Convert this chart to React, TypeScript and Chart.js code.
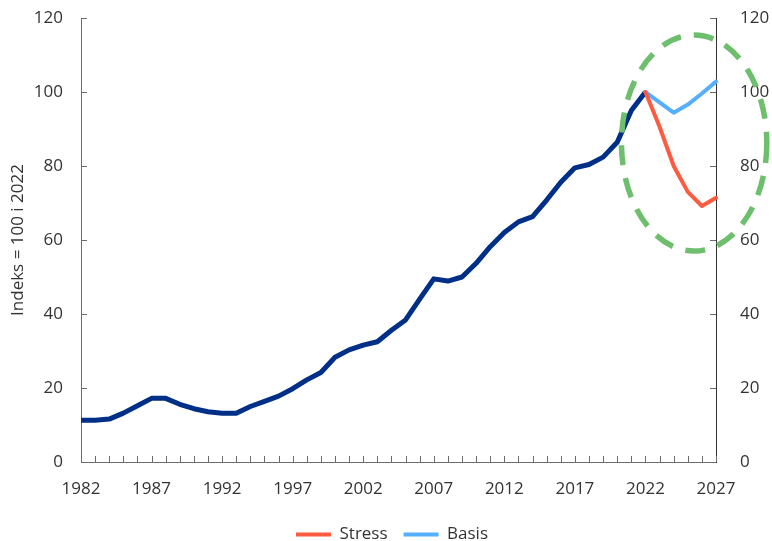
import React, { useEffect, useRef } from "react";
import { Chart, registerables } from "chart.js";

Chart.register(...registerables);

const years = [
  "1982", "1983", "1984", "1985", "1986", "1987", "1988", "1989", "1990", "1991",
  "1992", "1993", "1994", "1995", "1996", "1997", "1998", "1999", "2000", "2001",
  "2002", "2003", "2004", "2005", "2006", "2007", "2008", "2009", "2010", "2011",
  "2012", "2013", "2014", "2015", "2016", "2017", "2018", "2019", "2020", "2021",
  "2022", "2023", "2024", "2025", "2026", "2027",
];

const historyValues = [
  11.3, 11.3, 11.6, 13.2, 15.2, 17.2, 17.2, 15.6, 14.4, 13.6,
  13.2, 13.2, 15.0, 16.4, 17.8, 19.8, 22.2, 24.2, 28.3, 30.3,
  31.6, 32.5, 35.6, 38.4, 44.0, 49.5, 48.9, 50.0, 53.7, 58.2,
  62.0, 64.9, 66.3, 70.8, 75.6, 79.5, 80.4, 82.4, 86.4, 95.0,
  100, null, null, null, null, null,
];

const stressValues = [
  null, null, null, null, null, null, null, null, null, null,
  null, null, null, null, null, null, null, null, null, null,
  null, null, null, null, null, null, null, null, null, null,
  null, null, null, null, null, null, null, null, null, null,
  100, 90.6, 80.0, 73.0, 69.2, 71.4,
];

const basisValues = [
  null, null, null, null, null, null, null, null, null, null,
  null, null, null, null, null, null, null, null, null, null,
  null, null, null, null, null, null, null, null, null, null,
  null, null, null, null, null, null, null, null, null, null,
  100, 97.2, 94.4, 96.6, 99.6, 102.8,
];

const yTicks = [0, 20, 40, 60, 80, 100, 120];
const xLabelEvery = 5;

// highlight ellipse (data units)
const ellipseCenterYear = 2025.45;
const ellipseCenterValue = 86.2;
const ellipseHalfYears = 5.15;
const ellipseHalfValue = 29.2;

const FONT = "'Open Sans', 'Noto Sans', sans-serif";
const FS = 17;
const TEXT = "#333333";
const AXIS = "#6b6b6b";

const tickMarksPlugin = {
  id: "innerTicks",
  afterDraw(chart: any) {
    const { ctx, chartArea } = chart;
    const xs = chart.scales.x;
    const y = chart.scales.y;
    ctx.save();
    ctx.strokeStyle = AXIS;
    ctx.lineWidth = 1;
    ctx.beginPath();
    for (let i = 0; i < years.length; i++) {
      const px = Math.round(xs.getPixelForValue(i)) + 0.5;
      ctx.moveTo(px, chartArea.bottom);
      ctx.lineTo(px, chartArea.bottom - 6);
    }
    for (const v of yTicks) {
      const py = Math.round(y.getPixelForValue(v)) + 0.5;
      ctx.moveTo(chartArea.left, py);
      ctx.lineTo(chartArea.left + 6, py);
      ctx.moveTo(chartArea.right, py);
      ctx.lineTo(chartArea.right - 6, py);
    }
    ctx.stroke();
    ctx.restore();
  },
};

const ellipsePlugin = {
  id: "highlightEllipse",
  afterDatasetsDraw(chart: any) {
    const { ctx } = chart;
    const xs = chart.scales.x;
    const y = chart.scales.y;
    const cIdx = ellipseCenterYear - 1982;
    const cx = xs.getPixelForValue(cIdx);
    const cy = y.getPixelForValue(ellipseCenterValue);
    const rx = Math.abs(xs.getPixelForValue(cIdx + ellipseHalfYears) - cx);
    const ry = Math.abs(y.getPixelForValue(ellipseCenterValue + ellipseHalfValue) - cy);
    ctx.save();
    ctx.strokeStyle = "#6dbf6d";
    ctx.lineWidth = 5.5;
    ctx.setLineDash([20, 13]);
    ctx.beginPath();
    ctx.ellipse(cx, cy, rx, ry, 0, 0, Math.PI * 2);
    ctx.stroke();
    ctx.restore();
  },
};

const legendShiftPlugin = {
  id: "legendShift",
  afterLayout(chart: any) {
    const lg = chart.legend;
    if (lg) {
      lg.left += 6;
      lg.right += 6;
    }
  },
};

export default function App() {
  const ref = useRef<HTMLCanvasElement | null>(null);

  useEffect(() => {
    if (!ref.current) return;
    const chart = new Chart(ref.current, {
      type: "line",
      data: {
        labels: years,
        datasets: [
          {
            label: "Stress",
            data: stressValues,
            borderColor: "#ff5b40",
            backgroundColor: "#ff5b40",
            borderWidth: 4,
            borderCapStyle: "round",
            borderJoinStyle: "round",
            pointRadius: 0,
          },
          {
            label: "Basis",
            data: basisValues,
            borderColor: "#55aefe",
            backgroundColor: "#55aefe",
            borderWidth: 4,
            borderCapStyle: "round",
            borderJoinStyle: "round",
            pointRadius: 0,
          },
          {
            label: "Historikk",
            data: historyValues,
            borderColor: "#002f87",
            backgroundColor: "#002f87",
            borderWidth: 5,
            borderJoinStyle: "round",
            pointRadius: 0,
          },
        ],
      },
      options: {
        animation: false,
        responsive: false,
        maintainAspectRatio: false,
        layout: { padding: { top: 18, left: 0, right: 0, bottom: 0 } },
        plugins: {
          tooltip: { enabled: false },
          legend: {
            position: "bottom",
            maxHeight: 31,
            labels: {
              filter: (item: any) => item.text !== "Historikk",
              usePointStyle: true,
              pointStyle: "line",
              pointStyleWidth: 35,
              padding: 16,
              color: TEXT,
              font: { family: FONT, size: FS },
            },
          },
        },
        scales: {
          x: {
            type: "category",
            offset: false,
            grid: { display: false, drawTicks: false },
            border: { display: true, color: AXIS, width: 1 },
            ticks: {
              autoSkip: false,
              maxRotation: 0,
              minRotation: 0,
              padding: 17,
              color: TEXT,
              font: { family: FONT, size: FS },
              callback: (_v: any, i: number) => (i % xLabelEvery === 0 ? years[i] : ""),
            },
            afterFit: (s: any) => {
              s.height = 48;
              s.paddingLeft = 0;
              s.paddingRight = 0;
            },
          },
          y: {
            position: "left",
            min: 0,
            max: 120,
            grid: { display: false, drawTicks: false },
            border: { display: true, color: AXIS, width: 1 },
            ticks: {
              stepSize: 20,
              padding: 18,
              color: TEXT,
              font: { family: FONT, size: FS },
            },
            title: {
              display: true,
              text: "Indeks = 100 i 2022",
              color: TEXT,
              font: { family: FONT, size: FS },
              padding: { top: 8, bottom: 0 },
            },
            afterFit: (s: any) => {
              s.width = 81;
              s.paddingTop = 0;
              s.paddingBottom = 0;
            },
          },
          y2: {
            position: "right",
            min: 0,
            max: 120,
            grid: { display: false, drawTicks: false },
            border: { display: true, color: "#333333", width: 1 },
            ticks: {
              stepSize: 20,
              padding: 24,
              color: TEXT,
              font: { family: FONT, size: FS },
            },
            afterFit: (s: any) => {
              s.width = 56;
              s.paddingTop = 0;
              s.paddingBottom = 0;
            },
          },
        },
      },
      plugins: [tickMarksPlugin, ellipsePlugin, legendShiftPlugin],
    });
    return () => chart.destroy();
  }, []);

  return (
    <div style={{ position: "fixed", left: 0, top: 0, width: 772, height: 541, background: "#fff" }}>
      <canvas ref={ref} width={772} height={541} style={{ display: "block", width: 772, height: 541 }} />
    </div>
  );
}
